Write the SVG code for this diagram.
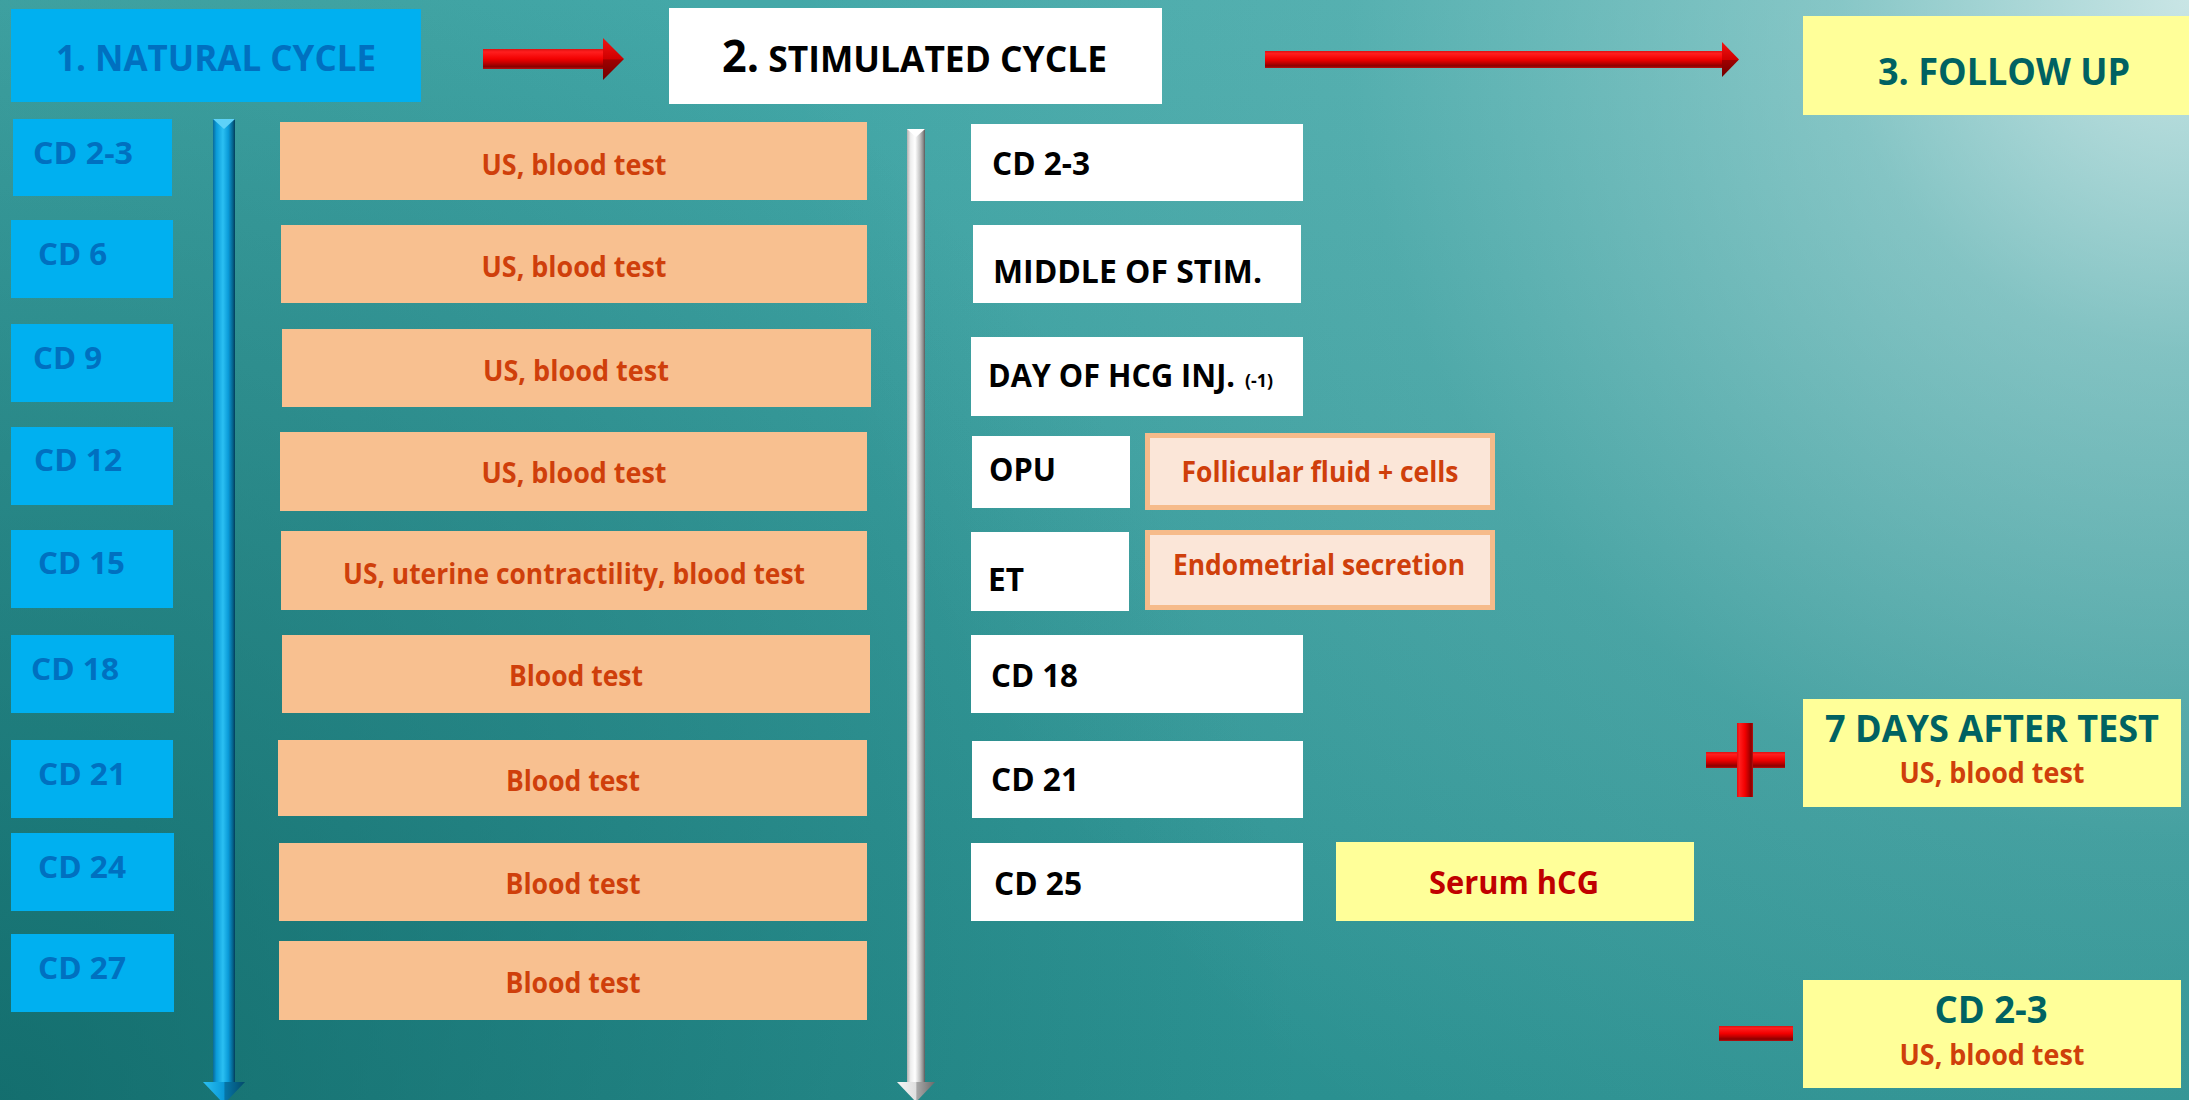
<svg xmlns="http://www.w3.org/2000/svg" width="2189" height="1100" viewBox="0 0 2189 1100">
<defs>
<linearGradient id="bgBase" x1="0" y1="0" x2="0" y2="1100" gradientUnits="userSpaceOnUse">
<stop offset="0" stop-color="#44A8A8"/>
<stop offset="0.5" stop-color="#389C9C"/>
<stop offset="1" stop-color="#2A9090"/>
</linearGradient>
<radialGradient id="bgDark" cx="0" cy="1100" r="1300" gradientUnits="userSpaceOnUse">
<stop offset="0" stop-color="#0A6060" stop-opacity="0.7"/>
<stop offset="1" stop-color="#0A6060" stop-opacity="0"/>
</radialGradient>
<radialGradient id="bgLight" cx="2189" cy="0" r="1400" gradientUnits="userSpaceOnUse">
<stop offset="0" stop-color="#D8ECEC" stop-opacity="0.9"/>
<stop offset="0.25" stop-color="#D8ECEC" stop-opacity="0.45"/>
<stop offset="0.6" stop-color="#D8ECEC" stop-opacity="0.12"/>
<stop offset="1" stop-color="#D8ECEC" stop-opacity="0"/>
</radialGradient>
<linearGradient id="blueBar" x1="0" y1="0" x2="1" y2="0">
<stop offset="0" stop-color="#0A6A9A"/>
<stop offset="0.15" stop-color="#0A9AD8"/>
<stop offset="0.45" stop-color="#2BC0F2"/>
<stop offset="0.7" stop-color="#0A9AD8"/>
<stop offset="0.9" stop-color="#05628C"/>
<stop offset="1" stop-color="#033E5A"/>
</linearGradient>
<linearGradient id="silverBar" x1="0" y1="0" x2="1" y2="0">
<stop offset="0" stop-color="#B0B0B0"/>
<stop offset="0.2" stop-color="#EEEEEE"/>
<stop offset="0.45" stop-color="#FFFFFF"/>
<stop offset="0.7" stop-color="#C8C8C8"/>
<stop offset="0.9" stop-color="#8A8A8A"/>
<stop offset="1" stop-color="#5A5A5A"/>
</linearGradient>
<linearGradient id="redBar" x1="0" y1="0" x2="0" y2="1">
<stop offset="0" stop-color="#E01010"/>
<stop offset="0.15" stop-color="#FF1E1E"/>
<stop offset="0.5" stop-color="#F20000"/>
<stop offset="0.7" stop-color="#C00000"/>
<stop offset="0.88" stop-color="#8A0000"/>
<stop offset="1" stop-color="#B81010"/>
</linearGradient>
<linearGradient id="redBarV" x1="0" y1="0" x2="1" y2="0">
<stop offset="0" stop-color="#E01010"/>
<stop offset="0.15" stop-color="#FF1E1E"/>
<stop offset="0.5" stop-color="#F20000"/>
<stop offset="0.7" stop-color="#C00000"/>
<stop offset="0.88" stop-color="#8A0000"/>
<stop offset="1" stop-color="#B81010"/>
</linearGradient>
<linearGradient id="redHead" x1="0" y1="0" x2="0" y2="1">
<stop offset="0" stop-color="#F01414"/>
<stop offset="0.5" stop-color="#D00000"/>
<stop offset="0.52" stop-color="#A00000"/>
<stop offset="1" stop-color="#700000"/>
</linearGradient>
<linearGradient id="blueHead" x1="0" y1="0" x2="1" y2="0">
<stop offset="0" stop-color="#2BC0F2"/>
<stop offset="0.5" stop-color="#0A9AD8"/>
<stop offset="0.52" stop-color="#0676A8"/>
<stop offset="1" stop-color="#034A6A"/>
</linearGradient>
<linearGradient id="silverHead" x1="0" y1="0" x2="1" y2="0">
<stop offset="0" stop-color="#F4F4F4"/>
<stop offset="0.5" stop-color="#E0E0E0"/>
<stop offset="0.52" stop-color="#A8A8A8"/>
<stop offset="1" stop-color="#6A6A6A"/>
</linearGradient>
</defs>
<style>
text { font-family: "Open Sans", "Liberation Sans", sans-serif; font-weight: bold; }
.nbox { fill: #00B0F0; }
.ntxt { font-size: 31px; fill: #0070C0; }
.pbox { fill: #F8C090; }
.ptxt { font-size: 28px; fill: #CF3F0B; text-anchor: middle; }
.wbox { fill: #FFFFFF; }
.wtxt { font-size: 32px; fill: #000000; }
.sbox { fill: #FBE6D8; stroke: #F6BB8A; stroke-width: 5; }
.ybox { fill: #FFFF99; }
.ttxt { fill: #006262; text-anchor: middle; }
</style>

<!-- background -->
<rect x="0" y="0" width="2189" height="1100" fill="url(#bgBase)"/>
<rect x="0" y="0" width="2189" height="1100" fill="url(#bgDark)"/>
<rect x="0" y="0" width="2189" height="1100" fill="url(#bgLight)"/>

<!-- headers -->
<g id="hdr-natural">
<rect class="nbox" x="11" y="9" width="410" height="93"/>
<text x="216" y="71" font-size="36" fill="#0070C0" text-anchor="middle" textLength="320" lengthAdjust="spacingAndGlyphs">1. NATURAL CYCLE</text>
</g>
<g id="hdr-stimulated">
<rect class="wbox" x="669" y="8" width="493" height="96"/>
<text x="722" y="72" fill="#000000" textLength="385" lengthAdjust="spacingAndGlyphs"><tspan font-size="44">2.</tspan><tspan font-size="36"> STIMULATED CYCLE</tspan></text>
</g>
<g id="hdr-followup">
<rect class="ybox" x="1803" y="16" width="386" height="99"/>
<text class="ttxt" x="2004" y="85" font-size="37" textLength="252" lengthAdjust="spacingAndGlyphs">3. FOLLOW UP</text>
</g>

<!-- connectors -->
<g id="connectors">
<g id="arrow-1-2">
<rect x="483" y="49" width="121" height="20" fill="url(#redBar)"/>
<polygon points="603,38 624,59 603,80" fill="url(#redHead)"/>
</g>
<g id="arrow-2-3">
<rect x="1265" y="51" width="458" height="17" fill="url(#redBar)"/>
<polygon points="1722,42 1739,59.5 1722,77" fill="url(#redHead)"/>
</g>
<g id="timeline-natural">
<rect x="213" y="119" width="22" height="964" fill="url(#blueBar)"/>
<polygon points="213,119 235,119 224,129" fill="#5ED2F8"/>
<polygon points="203,1082 245,1082 224,1104" fill="url(#blueHead)"/>
</g>
<g id="timeline-stimulated">
<rect x="907" y="129" width="18" height="954" fill="url(#silverBar)"/>
<polygon points="907,129 925,129 916,137" fill="#FFFFFF"/>
<polygon points="897,1082 935,1082 916,1102" fill="url(#silverHead)"/>
</g>
</g>

<!-- natural cycle days -->
<g id="n-cd2-3"><rect class="nbox" x="13" y="119" width="159" height="77"/><text class="ntxt" x="33" y="164" textLength="100" lengthAdjust="spacingAndGlyphs">CD 2-3</text></g>
<g id="n-cd6"><rect class="nbox" x="11" y="220" width="162" height="78"/><text class="ntxt" x="38" y="265" textLength="69" lengthAdjust="spacingAndGlyphs">CD 6</text></g>
<g id="n-cd9"><rect class="nbox" x="11" y="324" width="162" height="78"/><text class="ntxt" x="33" y="369" textLength="69" lengthAdjust="spacingAndGlyphs">CD 9</text></g>
<g id="n-cd12"><rect class="nbox" x="11" y="427" width="162" height="78"/><text class="ntxt" x="34" y="471" textLength="88" lengthAdjust="spacingAndGlyphs">CD 12</text></g>
<g id="n-cd15"><rect class="nbox" x="11" y="530" width="162" height="78"/><text class="ntxt" x="38" y="574" textLength="87" lengthAdjust="spacingAndGlyphs">CD 15</text></g>
<g id="n-cd18"><rect class="nbox" x="11" y="635" width="163" height="78"/><text class="ntxt" x="31" y="680" textLength="88" lengthAdjust="spacingAndGlyphs">CD 18</text></g>
<g id="n-cd21"><rect class="nbox" x="11" y="740" width="162" height="78"/><text class="ntxt" x="38" y="785" textLength="88" lengthAdjust="spacingAndGlyphs">CD 21</text></g>
<g id="n-cd24"><rect class="nbox" x="11" y="833" width="163" height="78"/><text class="ntxt" x="38" y="878" textLength="88" lengthAdjust="spacingAndGlyphs">CD 24</text></g>
<g id="n-cd27"><rect class="nbox" x="11" y="934" width="163" height="78"/><text class="ntxt" x="38" y="979" textLength="88" lengthAdjust="spacingAndGlyphs">CD 27</text></g>

<!-- natural cycle tests -->
<g id="t1"><rect class="pbox" x="280" y="122" width="587" height="78"/><text class="ptxt" x="574" y="175" textLength="185" lengthAdjust="spacingAndGlyphs">US, blood test</text></g>
<g id="t2"><rect class="pbox" x="281" y="225" width="586" height="78"/><text class="ptxt" x="574" y="277" textLength="185" lengthAdjust="spacingAndGlyphs">US, blood test</text></g>
<g id="t3"><rect class="pbox" x="282" y="329" width="589" height="78"/><text class="ptxt" x="576" y="381" textLength="186" lengthAdjust="spacingAndGlyphs">US, blood test</text></g>
<g id="t4"><rect class="pbox" x="280" y="432" width="587" height="79"/><text class="ptxt" x="574" y="483" textLength="185" lengthAdjust="spacingAndGlyphs">US, blood test</text></g>
<g id="t5"><rect class="pbox" x="281" y="531" width="586" height="79"/><text class="ptxt" x="574" y="584" textLength="462" lengthAdjust="spacingAndGlyphs">US, uterine contractility, blood test</text></g>
<g id="t6"><rect class="pbox" x="282" y="635" width="588" height="78"/><text class="ptxt" x="576" y="686" textLength="134" lengthAdjust="spacingAndGlyphs">Blood test</text></g>
<g id="t7"><rect class="pbox" x="278" y="740" width="589" height="76"/><text class="ptxt" x="573" y="791" textLength="134" lengthAdjust="spacingAndGlyphs">Blood test</text></g>
<g id="t8"><rect class="pbox" x="279" y="843" width="588" height="78"/><text class="ptxt" x="573" y="894" textLength="135" lengthAdjust="spacingAndGlyphs">Blood test</text></g>
<g id="t9"><rect class="pbox" x="279" y="941" width="588" height="79"/><text class="ptxt" x="573" y="993" textLength="135" lengthAdjust="spacingAndGlyphs">Blood test</text></g>

<!-- stimulated cycle -->
<g id="s-cd2-3"><rect class="wbox" x="971" y="124" width="332" height="77"/><text class="wtxt" x="992" y="175" textLength="98" lengthAdjust="spacingAndGlyphs">CD 2-3</text></g>
<g id="s-middle"><rect class="wbox" x="973" y="225" width="328" height="78"/><text class="wtxt" x="993" y="283" textLength="269" lengthAdjust="spacingAndGlyphs">MIDDLE OF STIM.</text></g>
<g id="s-hcg"><rect class="wbox" x="971" y="337" width="332" height="79"/><text class="wtxt" x="988" y="387" textLength="247" lengthAdjust="spacingAndGlyphs">DAY OF HCG INJ.</text><text x="1245" y="387" font-size="18" fill="#000000" textLength="28" lengthAdjust="spacingAndGlyphs">(-1)</text></g>
<g id="s-opu"><rect class="wbox" x="972" y="436" width="158" height="72"/><text class="wtxt" x="989" y="481" textLength="67" lengthAdjust="spacingAndGlyphs">OPU</text></g>
<g id="s-fluid"><rect class="sbox" x="1147.5" y="435.5" width="345" height="72"/><text class="ptxt" x="1320" y="482" textLength="277" lengthAdjust="spacingAndGlyphs">Follicular fluid + cells</text></g>
<g id="s-et"><rect class="wbox" x="971" y="532" width="158" height="79"/><text class="wtxt" x="988" y="591" textLength="36" lengthAdjust="spacingAndGlyphs">ET</text></g>
<g id="s-endo"><rect class="sbox" x="1147.5" y="532.5" width="345" height="75"/><text class="ptxt" x="1319" y="575" textLength="292" lengthAdjust="spacingAndGlyphs">Endometrial secretion</text></g>
<g id="s-cd18"><rect class="wbox" x="971" y="635" width="332" height="78"/><text class="wtxt" x="991" y="687" textLength="87" lengthAdjust="spacingAndGlyphs">CD 18</text></g>
<g id="s-cd21"><rect class="wbox" x="972" y="741" width="331" height="77"/><text class="wtxt" x="991" y="791" textLength="88" lengthAdjust="spacingAndGlyphs">CD 21</text></g>
<g id="s-cd25"><rect class="wbox" x="971" y="843" width="332" height="78"/><text class="wtxt" x="994" y="895" textLength="88" lengthAdjust="spacingAndGlyphs">CD 25</text></g>
<g id="s-hcg-serum"><rect class="ybox" x="1336" y="842" width="358" height="79"/><text x="1514" y="894" font-size="32" fill="#C00000" text-anchor="middle" textLength="170" lengthAdjust="spacingAndGlyphs">Serum hCG</text></g>

<!-- follow up -->
<g id="sign-plus">
<rect x="1706" y="752" width="79" height="16" fill="url(#redBar)"/>
<rect x="1737" y="723" width="16" height="74" fill="url(#redBarV)"/>
</g>
<g id="f-positive">
<rect class="ybox" x="1803" y="699" width="378" height="108"/>
<text class="ttxt" x="1992" y="742" font-size="37" textLength="334" lengthAdjust="spacingAndGlyphs">7 DAYS AFTER TEST</text>
<text class="ptxt" x="1992" y="783" textLength="185" lengthAdjust="spacingAndGlyphs">US, blood test</text>
</g>
<g id="sign-minus">
<rect x="1719" y="1026" width="74" height="15" fill="url(#redBar)"/>
</g>
<g id="f-negative">
<rect class="ybox" x="1803" y="980" width="378" height="108"/>
<text class="ttxt" x="1991" y="1023" font-size="37" textLength="113" lengthAdjust="spacingAndGlyphs">CD 2-3</text>
<text class="ptxt" x="1992" y="1065" textLength="185" lengthAdjust="spacingAndGlyphs">US, blood test</text>
</g>
</svg>
